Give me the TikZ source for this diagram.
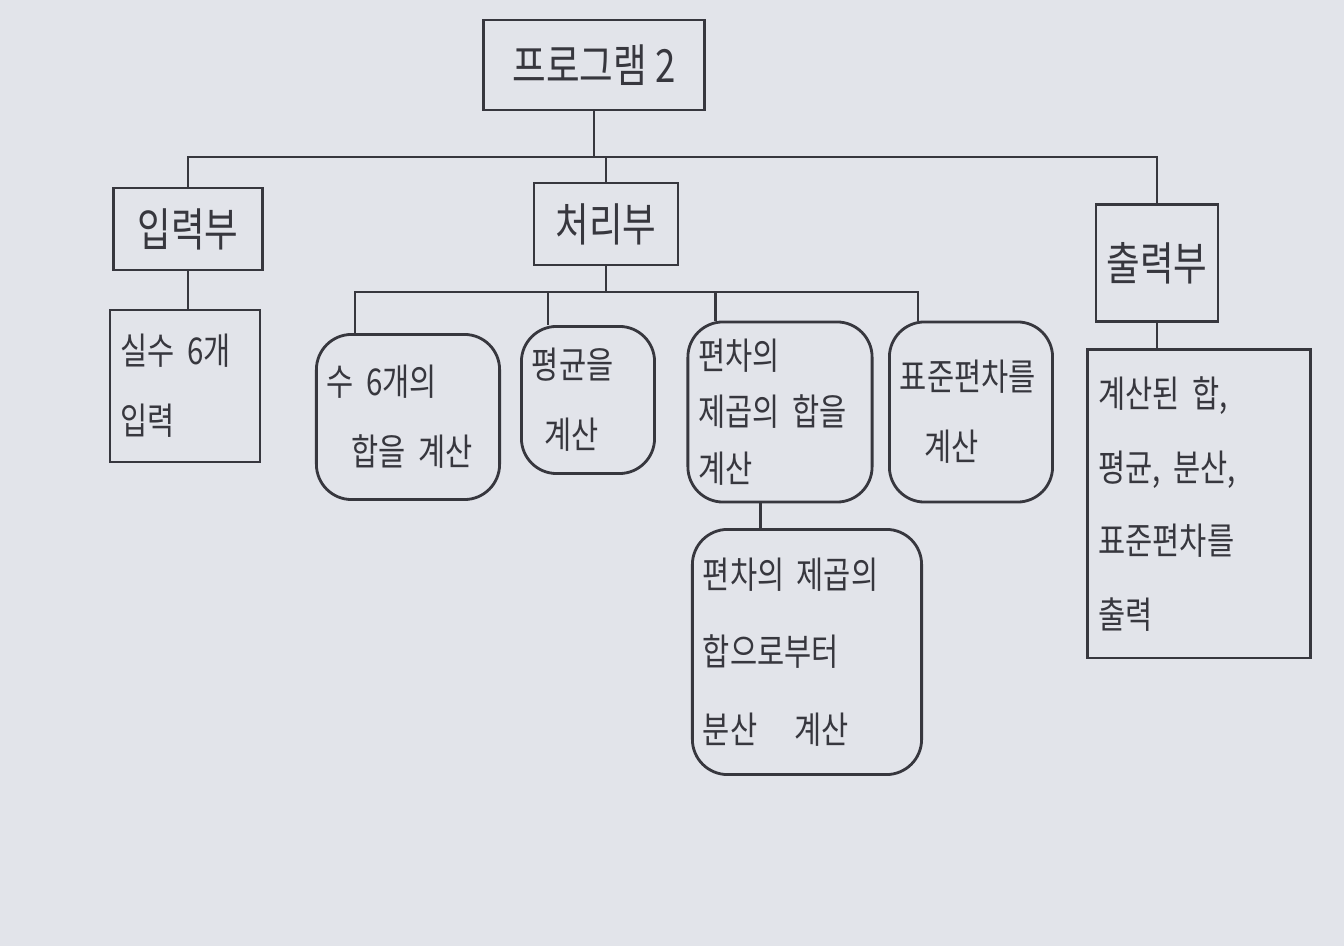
\documentclass[tikz,border=0pt]{standalone}
\usepackage{fontspec}
\newfontfamily\kr[FakeStretch=0.8]{Noto Sans CJK KR}
\definecolor{paper}{RGB}{226,228,234}
\definecolor{ink}{RGB}{55,55,62}
\tikzset{
  box/.style={draw=ink, line width=0.8pt, text=ink, inner xsep=3pt, inner ysep=4pt, align=left,
    font=\kr\fontsize{10.5}{20}\selectfont},
  head/.style={box, align=center, font=\kr\fontsize{13}{16}\selectfont},
  leaf/.style={box, rounded corners=10pt},
  link/.style={draw=ink, line width=0.8pt},
}
\begin{document}
\begin{tikzpicture}[x=0.01cm,y=-0.01cm]
\fill[paper] (0,0) rectangle (1344,946);
\useasboundingbox (0,0) rectangle (1344,946);

% top level
\node[head, minimum width=2.21cm, minimum height=0.90cm] (prog) at (594,65) {프로그램 2};
\node[head, minimum width=1.49cm, minimum height=0.82cm] (in) at (188,229) {입력부};
\node[head, minimum width=1.44cm, minimum height=0.82cm] (proc) at (606,224) {처리부};
\node[head, minimum width=1.14cm, minimum height=1.17cm] (out) at (1157,263) {출력부};

% leaves
\node[box, text width=1.29cm, minimum height=1.52cm] (real) at (185,386) {실수 6개\\입력};
\node[leaf, text width=1.62cm, minimum height=1.65cm] (sum) at (408,417) {수 6개의\\\ \ 합을 계산};
\node[leaf, text width=1.12cm, minimum height=1.47cm] (avg) at (588,400) {평균을\\\ 계산};
\node[leaf, text width=1.63cm, minimum height=1.80cm, font=\kr\fontsize{10.5}{16}\selectfont] (dev) at (780,412) {편차의\\제곱의 합을\\계산};
\node[leaf, text width=1.42cm, minimum height=1.80cm] (std) at (971,412) {표준편차를\\\ \ 계산};
\node[leaf, text width=2.08cm, minimum height=2.45cm, font=\kr\fontsize{10.5}{22}\selectfont] (var) at (807,652) {편차의 제곱의\\합으로부터\\분산\quad 계산};
\node[box, text width=2.01cm, minimum height=3.08cm, font=\kr\fontsize{10.5}{21}\selectfont] (res) at (1199,504) {계산된 합,\\평균, 분산,\\표준편차를\\출력};

% top bus
\coordinate (bus) at (0,157);
\draw[link] (prog.south) -- (prog.south |- bus);
\draw[link] (in.north) |- (out.north |- bus) -- (out.north);
\draw[link] (proc.north) -- (proc.north |- bus);

% input
\draw[link] (in.south) -- (in.south |- real.north);

% processing bus
\coordinate (bus2) at (0,292);
\coordinate (sumT) at ([xshift=0.40cm]sum.north west);
\coordinate (avgT) at ([xshift=0.28cm]avg.north west);
\coordinate (devT) at ([xshift=0.29cm]dev.north west);
\coordinate (stdT) at ([xshift=0.30cm]std.north west);
\draw[link] (proc.south) -- (proc.south |- bus2);
\draw[link] (sumT) |- (stdT |- bus2) -- (stdT);
\draw[link] (avgT) -- (avgT |- bus2);
\draw[link] (devT) -- (devT |- bus2);

% deviation -> variance
\coordinate (devB) at ([xshift=0.74cm]dev.south west);
\draw[link] (devB) -- (devB |- var.north);

% output
\draw[link] (out.south) -- (out.south |- res.north);
\end{tikzpicture}
\end{document}
